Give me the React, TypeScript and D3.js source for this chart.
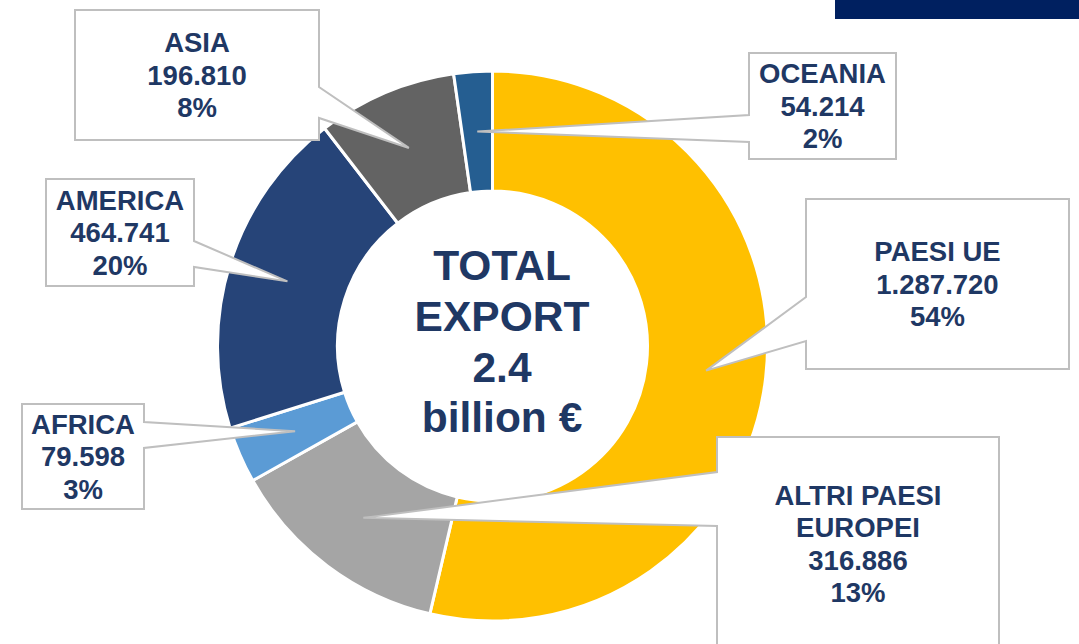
import React from "react";
import * as d3 from "d3";

const categories = ["PAESI UE", "ALTRI PAESI EUROPEI", "AFRICA", "AMERICA", "ASIA", "OCEANIA"];
const labelLines = [["PAESI UE"], ["ALTRI PAESI", "EUROPEI"], ["AFRICA"], ["AMERICA"], ["ASIA"], ["OCEANIA"]];
const values = [1287720, 316886, 79598, 464741, 196810, 54214];
const percentLabels = ["54%", "13%", "3%", "20%", "8%", "2%"];
const colors = ["#FFC000", "#A5A5A5", "#5B9BD5", "#264478", "#636363", "#255E91"];
const centerLines = ["TOTAL", "EXPORT", "2.4", "billion €"];

// callout box layout: [x0, y0, x1, y1, side, wedgeY0, wedgeY1]
const boxLayout: [number, number, number, number, "left" | "right", number, number][] = [
  [806, 199, 1069, 369, "left", 297, 341],
  [717, 437, 999, 650, "left", 472, 526],
  [22, 404, 144, 509, "right", 422, 448],
  [46, 179, 194, 286, "right", 241, 267],
  [75, 10, 319, 140, "right", 87, 118],
  [749, 53, 896, 159, "left", 115, 142],
];

const W = 1079, H = 644;
const cx = 492.5, cy = 346;
const rOuter = 275, rInner = 155;
const TEXT = "#1F3864";
const FONT = "'Liberation Sans', Arial, sans-serif";

const itFmt = d3.formatLocale({ decimal: ",", thousands: ".", grouping: [3], currency: ["", "€"] }).format(",");

export default function App() {
  const pie = d3.pie<number>().sort(null).value((d) => d).startAngle(0).endAngle(2 * Math.PI);
  const arcs = pie(values);
  const arc = d3.arc<d3.PieArcDatum<number>>().innerRadius(rInner).outerRadius(rOuter);

  const fs = 27.5, lh = 32.4, cap = 0.716 * fs;
  const cfs = 42.5, clh = 50.6, ccap = 0.716 * cfs;

  return (
    <svg width={W} height={H} style={{ position: "absolute", left: 0, top: 0, background: "#fff" }}>
      <rect x={835} y={0} width={W - 835} height={19} fill="#002060" />
      <g transform={`translate(${cx},${cy})`}>
        {arcs.map((a, i) => (
          <path key={i} d={arc(a) || ""} fill={colors[i]} stroke="#fff" strokeWidth={3} strokeLinejoin="miter" />
        ))}
      </g>
      <g fontFamily={FONT} fontWeight="bold" fill={TEXT} textAnchor="middle">
        {centerLines.map((t, i) => (
          <text key={i} x={502} fontSize={cfs} y={341 + (i - (centerLines.length - 1) / 2) * clh + ccap / 2}>{t}</text>
        ))}
      </g>
      {arcs.map((a, i) => {
        const [tx0, ty0] = arc.centroid(a);
        const tx = tx0 + cx, ty = ty0 + cy;
        const [x0, y0, x1, y1, side, w0, w1] = boxLayout[i];
        const d = side === "right"
          ? `M${x0},${y0}L${x1},${y0}L${x1},${w0}L${tx},${ty}L${x1},${w1}L${x1},${y1}L${x0},${y1}Z`
          : `M${x0},${y0}L${x1},${y0}L${x1},${y1}L${x0},${y1}L${x0},${w1}L${tx},${ty}L${x0},${w0}Z`;
        const lines = [...labelLines[i], itFmt(values[i]), percentLabels[i]];
        const mx = (x0 + x1) / 2, my = (y0 + y1) / 2;
        return (
          <g key={categories[i]}>
            <path d={d} fill="#fff" stroke="#BFBFBF" strokeWidth={2} strokeLinejoin="miter" />
            <g fontFamily={FONT} fontWeight="bold" fill={TEXT} textAnchor="middle" fontSize={fs}>
              {lines.map((t, j) => (
                <text key={j} x={mx} y={my + (j - (lines.length - 1) / 2) * lh + cap / 2}>{t}</text>
              ))}
            </g>
          </g>
        );
      })}
    </svg>
  );
}
